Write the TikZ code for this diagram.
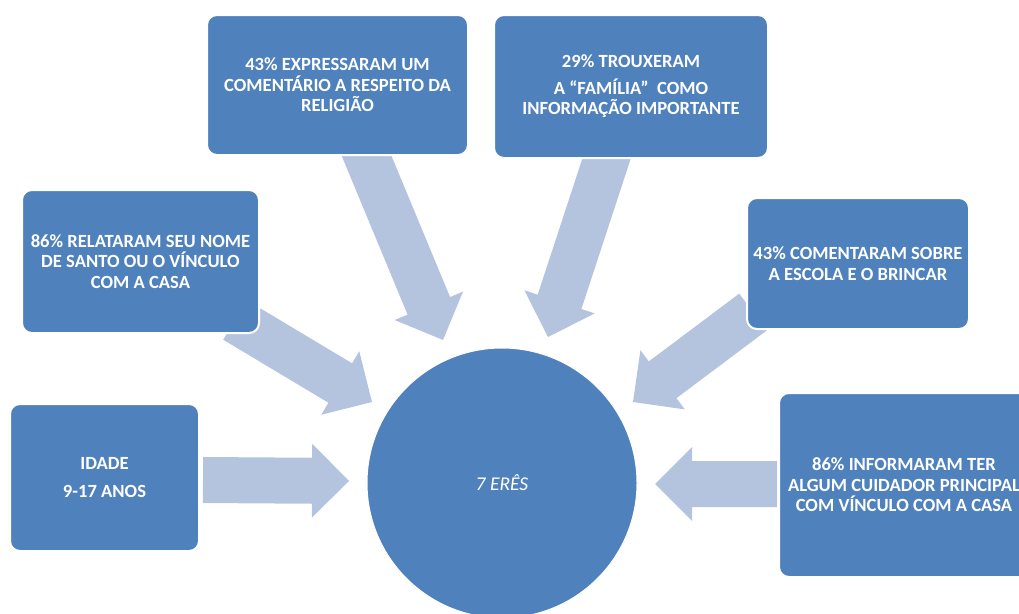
\documentclass[tikz,border=0pt]{standalone}
\usepackage{fontspec}
\setmainfont{Carlito}
\usetikzlibrary{calc}
\definecolor{boxblue}{RGB}{79,129,189}
\definecolor{arrowblue}{RGB}{180,196,223}
% block arrow from tail centre #1 to tip #2
\newcommand\blockarrow[2]{%
  \path coordinate (hb) at ($(#2)!37pt!(#1)$);
  \fill[arrowblue]
    ($(#1)!23pt!90:(#2)$) -- ($(hb)!23pt!90:(#2)$) -- ($(hb)!37pt!90:(#2)$) --
    (#2) --
    ($(hb)!37pt!-90:(#2)$) -- ($(hb)!23pt!-90:(#2)$) -- ($(#1)!23pt!-90:(#2)$) -- cycle;
}
\tikzset{
  infobox/.style={fill=boxblue, draw=white, line width=2pt, rounded corners=10pt,
    text=white, align=center, inner sep=0pt,
    font=\bfseries\fontsize{18.6}{20.5}\selectfont},
  hub/.style={circle, fill=boxblue, draw=white, line width=1pt, text=white,
    font=\itshape\fontsize{19.5}{22}\selectfont, minimum size=270pt, inner sep=0pt}
}
\begin{document}
\begin{tikzpicture}[x=1pt,y=-1pt]
\useasboundingbox (0,0) rectangle (1019,613);
% connector end points
\coordinate (s1) at (203,480);  \coordinate (e1) at (349,481);
\coordinate (s2) at (235,320);  \coordinate (e2) at (372,402);
\coordinate (s3) at (360,140);  \coordinate (e3) at (443,340);
\coordinate (s4) at (611,145);  \coordinate (e4) at (548,337);
\coordinate (s5) at (753,312);  \coordinate (e5) at (633,402);
\coordinate (s6) at (777,484);  \coordinate (e6) at (655,484);
% connectors (block arrows)
\blockarrow{s1}{e1}
\blockarrow{s2}{e2}
\blockarrow{s3}{e3}
\blockarrow{s4}{e4}
\blockarrow{s5}{e5}
\blockarrow{s6}{e6}
% boxes
\node[infobox, minimum width=261pt, minimum height=140pt] (rel) at (337.5,85)
  {43\% EXPRESSARAM UM\\COMENTÁRIO A RESPEITO DA\\RELIGIÃO};
\node[infobox, minimum width=274pt, minimum height=143pt] (fam) at (631,86.5)
  {29\% TROUXERAM\\[6pt]A “FAMÍLIA”\ \ COMO\\INFORMAÇÃO IMPORTANTE};
\node[infobox, minimum width=237pt, minimum height=143pt] (santo) at (140.5,261.5)
  {86\% RELATARAM SEU NOME\\DE SANTO OU O VÍNCULO\\COM A CASA};
\node[infobox, minimum width=222pt, minimum height=131pt] (esc) at (858,263.5)
  {43\% COMENTARAM SOBRE\\A ESCOLA E O BRINCAR};
\node[infobox, minimum width=189pt, minimum height=147pt] (idade) at (104.5,477.5)
  {IDADE\\[8pt]9-17 ANOS};
\node[infobox, minimum width=250pt, minimum height=184pt] (cuid) at (904,485)
  {86\% INFORMARAM TER\\ALGUM CUIDADOR PRINCIPAL\\COM VÍNCULO COM A CASA};
\node[hub] (hub) at (502,483) {7 ERÊS};
\end{tikzpicture}
\end{document}
